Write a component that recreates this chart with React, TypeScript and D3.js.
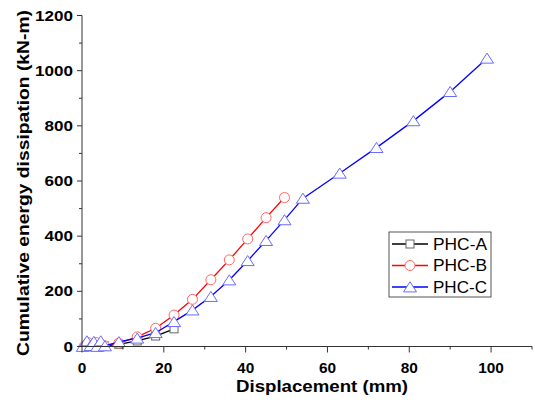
import React from "react";
import * as d3 from "d3";

const dispA = [5.5, 9, 13.5, 18, 22.5];
const energyA = [2, 8, 20, 38, 64];

const dispB = [0.5, 1.5, 2.5, 3.5, 4.5, 5.5, 9, 13.5, 18, 22.5, 27, 31.5, 36, 40.5, 45, 49.5];
const energyB = [0, 14, 2, 14, 2, 3, 12, 35, 66, 114, 171, 242, 314, 390, 467, 540];

const dispC = [0.2, 1.2, 2.1, 2.9, 3.7, 4.6, 5.6, 9, 13.5, 18, 22.5, 27, 31.5, 36, 40.5, 45, 49.5, 54, 63, 72, 81, 90, 99];
const energyC = [0, 20, 3, 18, 0, 20, 2, 17, 30, 50, 90, 132, 181, 241, 311, 384, 459, 537, 628, 721, 818, 924, 1045];

const xTicks = [0, 20, 40, 60, 80, 100];
const xMinor = [10, 30, 50, 70, 90, 110];
const yTicks = [0, 200, 400, 600, 800, 1000, 1200];
const yMinor = [100, 300, 500, 700, 900, 1100];

const seriesNames = ["PHC-A", "PHC-B", "PHC-C"];

const FONT = "'Liberation Sans', Arial, Helvetica, sans-serif";

export default function App() {
  const W = 535, H = 402;
  const x = d3.scaleLinear().domain([0, 110]).range([82, 532]);
  const y = d3.scaleLinear().domain([0, 1200]).range([346.5, 15.5]);

  const series = [
    { name: seriesNames[0], xs: dispA, ys: energyA, line: "#000000", mark: "#666666", shape: "square" },
    { name: seriesNames[1], xs: dispB, ys: energyB, line: "#ff0000", mark: "#ff6666", shape: "circle" },
    { name: seriesNames[2], xs: dispC, ys: energyC, line: "#0000ff", mark: "#6a6aff", shape: "triangle" },
  ];

  const lineGen = d3.line<[number, number]>().x((d) => x(d[0])).y((d) => y(d[1]));

  const marker = (shape: string, cx: number, cy: number, color: string, key: string) => {
    if (shape === "square") {
      return <rect key={key} x={cx - 4} y={cy - 4} width={8} height={8} fill="white" stroke={color} strokeWidth={1} />;
    }
    if (shape === "circle") {
      return <circle key={key} cx={cx} cy={cy} r={5} fill="white" stroke={color} strokeWidth={1} />;
    }
    const s = 6.5;
    const pts = `${cx},${cy - s * 0.8} ${cx - s},${cy + s * 0.75} ${cx + s},${cy + s * 0.75}`;
    return <polygon key={key} points={pts} fill="white" stroke={color} strokeWidth={1} />;
  };

  const x0 = x(0);
  const yb = y(0);

  return (
    <svg width={W} height={H} style={{ position: "absolute", left: 0, top: 0, background: "white" }} fontFamily={FONT}>
      <rect width={W} height={H} fill="white" />
      {series.map((s) => {
        const pts = s.xs.map((v, i) => [v, s.ys[i]] as [number, number]);
        return (
          <g key={s.name}>
            <path d={lineGen(pts) || ""} fill="none" stroke={s.line} strokeWidth={1.3} />
            {pts.map((p, i) => marker(s.shape, x(p[0]), y(p[1]), s.mark, s.name + i))}
          </g>
        );
      })}
      {/* axes */}
      <line x1={x0} x2={x0} y1={y(1200)} y2={yb} stroke="#333" strokeWidth={1} />
      <line x1={x0} x2={x(110)} y1={yb} y2={yb} stroke="#333" strokeWidth={1} />
      {yTicks.map((t) => (
        <g key={"yt" + t}>
          <line x1={x0 - 5} x2={x0} y1={y(t)} y2={y(t)} stroke="#333" />
          <text transform={`translate(${x0 - 9},${y(t)}) scale(1.22,1)`} dy="0.36em" textAnchor="end" fontSize={14} fontWeight="bold">{t}</text>
        </g>
      ))}
      {yMinor.map((t) => (
        <line key={"ym" + t} x1={x0 - 3} x2={x0} y1={y(t)} y2={y(t)} stroke="#333" />
      ))}
      {xTicks.map((t) => (
        <g key={"xt" + t}>
          <line x1={x(t)} x2={x(t)} y1={yb} y2={yb + 6} stroke="#333" />
          <text transform={`translate(${x(t)},${yb + 26}) scale(1.1,1)`} textAnchor="middle" fontSize={14} fontWeight="bold">{t}</text>
        </g>
      ))}
      {xMinor.map((t) => (
        <line key={"xm" + t} x1={x(t)} x2={x(t)} y1={yb} y2={yb + 3} stroke="#333" />
      ))}
      <text x={236} y={392} textLength={172} lengthAdjust="spacingAndGlyphs" fontSize={16} fontWeight="bold">Displacement (mm)</text>
      <text transform={`translate(29,356) rotate(-90)`} textLength={346} lengthAdjust="spacingAndGlyphs" fontSize={16.5} fontWeight="bold">
        Cumulative energy dissipation (kN-m)
      </text>
      {/* legend */}
      <rect x={389} y={232} width={102} height={65} fill="white" stroke="#555" strokeWidth={1} />
      {series.map((s, i) => {
        const ly = 244 + i * 21.5;
        return (
          <g key={"lg" + i}>
            <line x1={392} x2={428} y1={ly} y2={ly} stroke={s.line} strokeWidth={1.3} />
            {marker(s.shape, 410, ly, s.mark, "lm" + i)}
            <text x={433} y={ly} dy="0.36em" fontSize={16} textLength={54} lengthAdjust="spacingAndGlyphs">{s.name}</text>
          </g>
        );
      })}
    </svg>
  );
}
